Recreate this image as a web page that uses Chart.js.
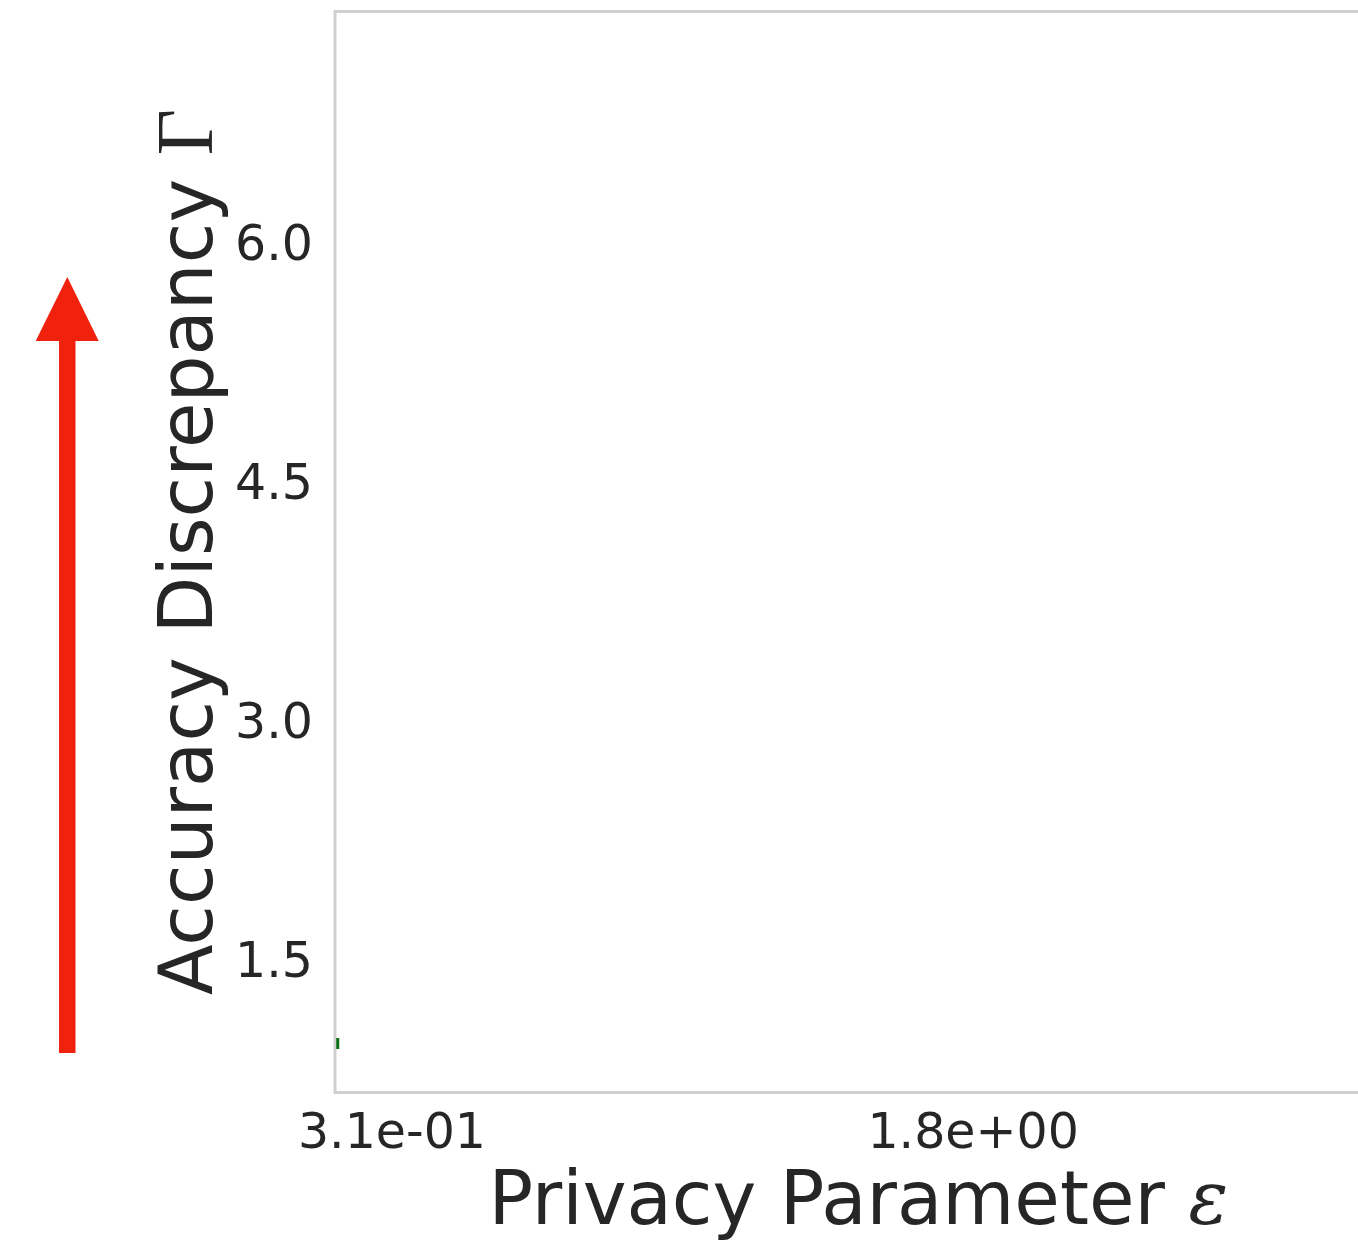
<!DOCTYPE html>
<html>
<head>
<meta charset="utf-8">
<script src="https://cdn.jsdelivr.net/npm/chart.js@4/dist/chart.umd.min.js"></script>
<style>
  html, body { margin: 0; padding: 0; background: #ffffff; overflow: hidden; }
  #wrap { position: relative; width: 1390px; height: 1243px; }
</style>
</head>
<body>
<div id="wrap"><canvas id="chart"></canvas></div>
<script>
// Axis limits and ticks
const xRange = [0.164, 2.847];
const yRange = [0.673, 7.461];
const xTickValues = [0.31, 1.8];
const xTickLabels = ['3.1e-01', '1.8e+00'];
const yTickValues = [1.5, 3.0, 4.5, 6.0];

// Measured series: privacy parameter vs. accuracy discrepancy
const epsilon = [0.171];
const gamma = [0.98];

const TEXT = '#262626';
const FRAME = '#cfcfcf';

// Light frame around the plotting area
const framePlugin = {
  id: 'frame',
  beforeDatasetsDraw(chart) {
    const { ctx, chartArea: a } = chart;
    ctx.save();
    ctx.strokeStyle = FRAME;
    ctx.lineWidth = 3;
    ctx.strokeRect(a.left, a.top, a.right - a.left, a.bottom - a.top);
    ctx.restore();
  }
};

// Draw a run of [text, font] pieces starting at x on the current baseline
function drawRuns(ctx, runs, x, y) {
  let cx = x;
  for (const [t, f] of runs) {
    ctx.font = f;
    ctx.fillText(t, cx, y);
    cx += ctx.measureText(t).width;
  }
}
function runsWidth(ctx, runs) {
  let w = 0;
  for (const [t, f] of runs) { ctx.font = f; w += ctx.measureText(t).width; }
  return w;
}

// Axis titles with math symbols, plus the upward arrow beside the y axis
const titlePlugin = {
  id: 'titles',
  afterDraw(chart) {
    const { ctx, chartArea: a } = chart;
    const sans = '74px "DejaVu Sans"';
    ctx.save();
    ctx.fillStyle = TEXT;
    ctx.textBaseline = 'alphabetic';
    ctx.textAlign = 'left';

    const xRuns = [['Privacy Parameter ', sans], ['\u03b5', 'italic 74px "DejaVu Serif"']];
    const xw = runsWidth(ctx, xRuns);
    drawRuns(ctx, xRuns, (a.left + a.right) / 2 - xw / 2, 1224);

    const yRuns = [['Accuracy Discrepancy ', sans], ['\u0393', '80px "Liberation Serif"']];
    const yw = runsWidth(ctx, yRuns);
    ctx.translate(212, (a.top + a.bottom) / 2);
    ctx.rotate(-Math.PI / 2);
    drawRuns(ctx, yRuns, -yw / 2, 0);
    ctx.restore();

    // arrow
    ctx.save();
    ctx.fillStyle = '#f0220e';
    ctx.fillRect(59, 341, 16.5, 712);
    ctx.beginPath();
    ctx.moveTo(35.7, 341);
    ctx.lineTo(98.7, 341);
    ctx.lineTo(67.3, 277);
    ctx.closePath();
    ctx.fill();
    ctx.restore();
  }
};

new Chart(document.getElementById('chart'), {
  type: 'scatter',
  data: {
    datasets: [{
      data: epsilon.map((e, i) => ({ x: e, y: gamma[i] })),
      pointStyle: 'line',
      rotation: 90,
      radius: 5.5,
      hoverRadius: 5.5,
      borderWidth: 3,
      borderColor: '#0b6e12',
      backgroundColor: '#0b6e12'
    }]
  },
  options: {
    responsive: true,
    maintainAspectRatio: false,
    animation: false,
    events: [],
    layout: { padding: { top: 11.5, right: 6, bottom: 0, left: 0 } },
    plugins: { legend: { display: false }, tooltip: { enabled: false } },
    scales: {
      x: {
        type: 'linear',
        min: xRange[0],
        max: xRange[1],
        afterBuildTicks(scale) { scale.ticks = xTickValues.map(v => ({ value: v })); },
        afterFit(scale) {
          scale.height = 150.5;
          scale.paddingLeft = 0;
          scale.paddingRight = 0;
        },
        grid: { display: false, drawTicks: false },
        border: { display: false },
        ticks: {
          autoSkip: false,
          maxRotation: 0,
          padding: 13,
          color: TEXT,
          font: { family: 'DejaVu Sans', size: 49 },
          callback(v) {
            const i = xTickValues.findIndex(t => Math.abs(t - v) < 1e-9);
            return i >= 0 ? xTickLabels[i] : '';
          }
        }
      },
      y: {
        type: 'linear',
        min: yRange[0],
        max: yRange[1],
        afterBuildTicks(scale) { scale.ticks = yTickValues.map(v => ({ value: v })); },
        afterFit(scale) {
          scale.width = 335;
          scale.paddingTop = 0;
          scale.paddingBottom = 0;
        },
        grid: { display: false, drawTicks: false },
        border: { display: false },
        ticks: {
          padding: 22,
          labelOffset: 3,
          color: TEXT,
          font: { family: 'DejaVu Sans', size: 49 },
          callback(v) { return Number(v).toFixed(1); }
        }
      }
    }
  },
  plugins: [framePlugin, titlePlugin]
});
</script>
</body>
</html>
